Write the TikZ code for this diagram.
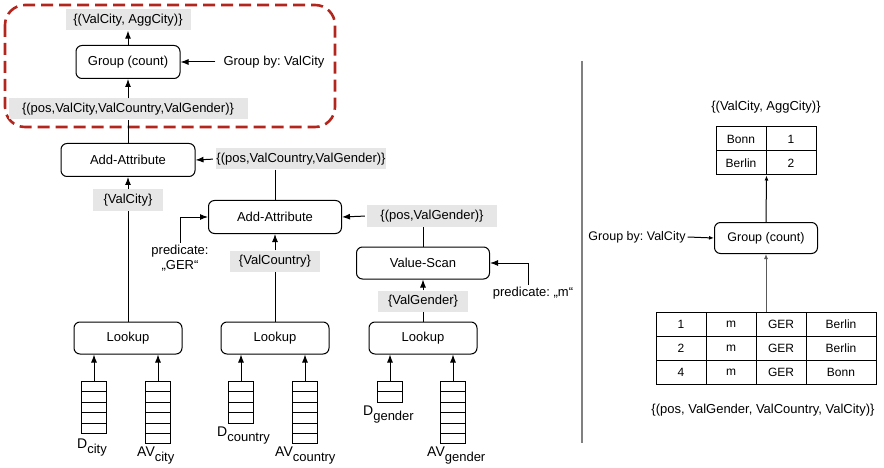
\documentclass[tikz,border=0pt]{standalone}
\usepackage{fontspec}
\setmainfont{Liberation Sans}
\usetikzlibrary{arrows.meta}
\definecolor{tagfill}{RGB}{230,230,230}
\definecolor{groupred}{RGB}{178,38,30}
\definecolor{rulegray}{RGB}{128,128,128}
\frenchspacing

\tikzset{
  fnt/.style={font=\fontsize{13}{15}\selectfont},
  op/.style={draw, rounded corners=6pt, line width=1pt, minimum width=108pt,
             minimum height=32pt, inner sep=0pt, fnt},
  tag/.style={fill=tagfill, minimum height=21pt, inner sep=0pt, fnt},
  txt/.style={inner sep=2pt, fnt},
  arr/.style={-{Latex[length=8pt,width=6pt]}, line width=1pt},
  wire/.style={line width=1pt},
  arrs/.style={-{Latex[length=5pt,width=4pt]}, line width=1pt},
  cell/.style={draw, line width=1pt, minimum width=25pt, minimum height=10.4pt, inner sep=0pt},
  tcell/.style={draw, line width=1pt, inner sep=0pt, font=\fontsize{12}{14}\selectfont},
  sublbl/.style={inner sep=0pt, font=\fontsize{14}{16}\selectfont, anchor=base west},
}

% a column of storage cells: name, x, top y, number of cells
\newcommand\cellstack[4]{%
  \foreach \k in {1,...,#4}{%
    \node[cell, anchor=north] (#1-\k) at (#2,{#3+(\k-1)*10.4}) {};
  }%
}
\newcommand\subtxt[2]{#1\raisebox{-5pt}{\fontsize{13}{15}\selectfont #2}}

\begin{document}
\begin{tikzpicture}[x=1pt, y=-1pt]
\useasboundingbox (0,0) rectangle (884,468);

% ---------------- query plan ----------------
\draw[groupred, line width=2.6pt, dash pattern=on 12pt off 6pt, rounded corners=20pt]
  (5,5) rectangle (335,127);

\node[tag, minimum width=125pt] (outtag) at (128,20) {\{(ValCity, AggCity)\}};
\node[op, minimum width=104pt, minimum height=33pt] (grp) at (128,62) {Group (count)};
\node[txt] (grpby) at (274,62) {Group by: ValCity};
\node[tag, minimum width=239pt] (tagA) at (128,109) {\{(pos,ValCity,ValCountry,ValGender)\}};

\node[op, minimum width=134pt, minimum height=33pt] (add1) at (128,160) {Add-Attribute};
\node[tag, minimum width=170pt] (tagB) at (301,159) {\{(pos,ValCountry,ValGender)\}};
\node[tag, minimum width=70pt] (tagC) at (128,200) {\{ValCity\}};

\node[op, minimum width=133pt, minimum height=33pt] (add2) at (275,217) {Add-Attribute};
\node[txt, align=center] (predA) at (180,258) {predicate:\\„GER“};
\node[tag, minimum width=90pt] (tagD) at (275,261) {\{ValCountry\}};

\node[tag, minimum width=130pt, minimum height=22pt] (tagE) at (432,216) {\{(pos,ValGender)\}};
\node[op, minimum width=133pt] (scan) at (423,263) {Value-Scan};
\node[txt] (predB) at (533,293) {predicate: „m“};
\node[tag, minimum width=90pt] (tagF) at (423,301) {\{ValGender\}};

\node[op] (lk1) at (128,338) {Lookup};
\node[op] (lk2) at (275,338) {Lookup};
\node[op] (lk3) at (423,338) {Lookup};

\cellstack{dcity}{94}{381}{5}
\cellstack{avcity}{158}{381}{6}
\cellstack{dcountry}{241}{381}{4}
\cellstack{avcountry}{305}{381}{6}
\cellstack{dgender}{390}{381}{2}
\cellstack{avgender}{453}{381}{6}

\node[sublbl] (ldcity) at (77,448) {\subtxt{D}{city}};
\node[sublbl] (lavcity) at (137,456) {\subtxt{AV}{city}};
\node[sublbl] (ldcountry) at (217,436) {\subtxt{D}{country}};
\node[sublbl] (lavcountry) at (275,456) {\subtxt{AV}{country}};
\node[sublbl] (ldgender) at (363,415) {\subtxt{D}{gender}};
\node[sublbl] (lavgender) at (427,456) {\subtxt{AV}{gender}};

% connectors
\draw[arr] (grp.north) -- (outtag.south);
\draw[arr, shorten <=6pt] (grpby.west) -- (grp.east);
\draw[arr] (tagA.north) -- (grp.south);
\draw[wire] (add1.north) -- (tagA.south);
\draw[arr, shorten <=3pt] (tagB.west) -- (add1.east);
\draw[wire] (tagB.south -| add2.north) -- (add2.north);
\draw[arr] (tagC.north) -- (add1.south);
\draw[wire] (lk1.north) -- (tagC.south);
\draw[arr] (predA.north) |- (add2.west);
\draw[arr] (tagD.north) -- (add2.south);
\draw[wire] (lk2.north) -- (tagD.south);
\draw[arr, shorten <=2pt] (tagE.west) -- (add2.east);
\draw[wire] (tagE.south -| scan.north) -- (scan.north);
\draw[arr] ([xshift=-4.5pt]predB.north) |- (scan.east);
\draw[arr] (tagF.north) -- (scan.south);
\draw[wire] (lk3.north) -- (tagF.south);

\foreach \s/\l in {dcity/lk1, avcity/lk1, dcountry/lk2, avcountry/lk2, dgender/lk3, avgender/lk3}
  \draw[arr] (\s-1.north) -- (\s-1.north |- \l.south);

% ---------------- separator ----------------
\draw[rulegray, line width=2pt] (581.5,61) -- (581.5,443);

% ---------------- example data ----------------
\node[inner sep=0pt, fnt] (outcap) at (766,107) {\{(ValCity, AggCity)\}};
\node[tcell, minimum width=50pt, minimum height=24pt] (t11) at (741,139) {Bonn};
\node[tcell, minimum width=50pt, minimum height=24pt] (t12) at (791,139) {1};
\node[tcell, minimum width=50pt, minimum height=24pt] (t21) at (741,163) {Berlin};
\node[tcell, minimum width=50pt, minimum height=24pt] (t22) at (791,163) {2};

\node[draw, rounded corners=6pt, line width=1pt, minimum width=103pt, minimum height=31pt,
      inner sep=0pt, font=\fontsize{12.5}{15}\selectfont] (grp2) at (766,238) {Group (count)};
\node[inner sep=2pt, font=\fontsize{12.5}{15}\selectfont] (grpby2) at (637,237) {Group by: ValCity};

\foreach \r/\y/\a/\b/\c/\d in {1/324/1/m/GER/Berlin, 2/348/2/m/GER/Berlin, 3/372.5/4/m/GER/Bonn}{
  \node[tcell, minimum width=50pt, minimum height=24pt] (r\r c1) at (681,\y) {\a};
  \node[tcell, minimum width=50pt, minimum height=24pt] (r\r c2) at (731,\y) {\b};
  \node[tcell, minimum width=50pt, minimum height=24pt] (r\r c3) at (781,\y) {\c};
  \node[tcell, minimum width=70pt, minimum height=24pt] (r\r c4) at (841,\y) {\d};
}
\node[inner sep=0pt, fnt] (incap) at (763,410) {\{(pos, ValGender, ValCountry, ValCity)\}};

\draw[arrs] (grp2.north) -- (t21.south east);
\draw[arrs] (grpby2.east) -- (grp2.west);
\draw[arrs, black!65] (r1c3.north -| grp2.south) -- (grp2.south);
\end{tikzpicture}
\end{document}
